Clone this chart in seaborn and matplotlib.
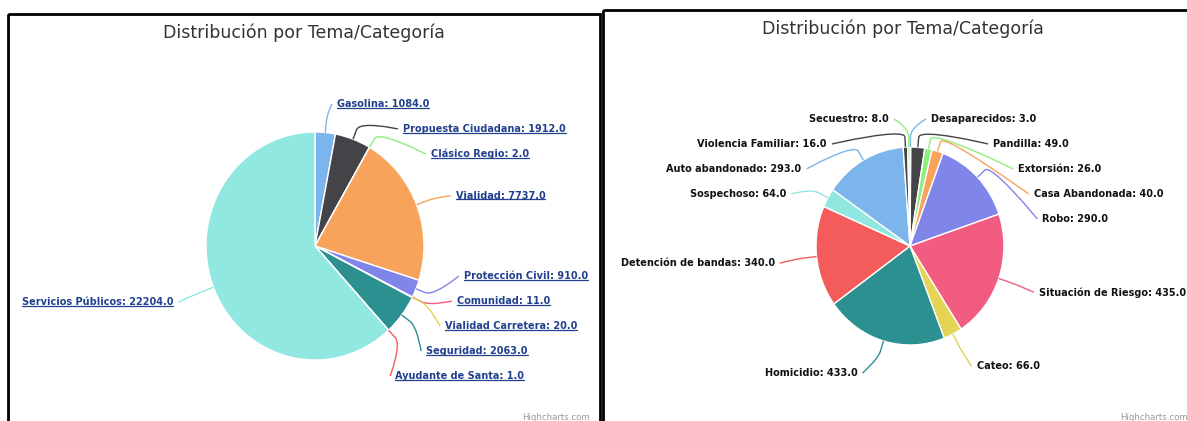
import numpy as np
import matplotlib
matplotlib.use("Agg")
import matplotlib.pyplot as plt
from matplotlib.path import Path
from matplotlib.patches import PathPatch, Rectangle
import seaborn as sns

# data
title = "Distribución por Tema/Categoría"

left_cats = ["Gasolina", "Propuesta Ciudadana", "Clásico Regio", "Vialidad",
             "Protección Civil", "Comunidad", "Vialidad Carretera", "Seguridad",
             "Ayudante de Santa", "Servicios Públicos"]
left_vals = [1084, 1912, 2, 7737, 910, 11, 20, 2063, 1, 22204]

right_cats = ["Desaparecidos", "Pandilla", "Extorsión", "Casa Abandonada", "Robo",
              "Situación de Riesgo", "Cateo", "Homicidio", "Detención de bandas",
              "Sospechoso", "Auto abandonado", "Violencia Familiar", "Secuestro"]
right_vals = [3, 49, 26, 40, 290, 435, 66, 433, 340, 64, 293, 16, 8]

hc_colors = ["#7cb5ec", "#434348", "#90ed7d", "#f7a35c", "#8085e9",
             "#f15c80", "#e4d354", "#2b908f", "#f45b5b", "#91e8e1"]

W, H = 1187, 421

sns.set_theme(style="white")
plt.rcParams["font.family"] = ["DejaVu Sans"]
palette = sns.color_palette(hc_colors)

fig = plt.figure(figsize=(W / 100, H / 100), dpi=100)
fig.patch.set_facecolor("white")

# overlay axes in pixel coordinates (y down) for labels, connectors, frames
over = fig.add_axes([0, 0, 1, 1], zorder=5)
over.set_xlim(0, W)
over.set_ylim(H, 0)
over.axis("off")
over.patch.set_alpha(0)


def spread(ys, gap, lo, hi):
    # push overlapping labels apart, keeping each group centred on its natural spot
    order = np.argsort(ys, kind="stable")
    clusters = [[i] for i in order]

    def start_of(cl):
        s = np.mean([ys[i] for i in cl]) - (len(cl) - 1) * gap / 2
        return min(max(s, lo), hi - (len(cl) - 1) * gap)

    merged = True
    while merged:
        merged = False
        for k in range(len(clusters) - 1):
            end_k = start_of(clusters[k]) + (len(clusters[k]) - 1) * gap
            if start_of(clusters[k + 1]) < end_k + gap - 1e-6:
                clusters[k] = clusters[k] + clusters.pop(k + 1)
                merged = True
                break
    out = np.zeros(len(ys))
    for cl in clusters:
        s = start_of(cl)
        for j, i in enumerate(cl):
            out[i] = s + j * gap
    return out


def draw_panel(cats, vals, box, cx, cy, rx, ry, title_xy, lab_color, underline,
               credit_xy, credit_ha):
    x0, y0, x1, y1 = box
    over.add_patch(Rectangle((x0, y0), x1 - x0, y1 - y0, fill=False,
                             ec="black", lw=2, clip_on=False))
    over.text(*title_xy, title, ha="center", va="center", fontsize=12.5,
              color="#333333")
    over.text(*credit_xy, "Highcharts.com", ha=credit_ha, va="center",
              fontsize=6.2, color="#999999")

    colors = [palette[i % len(palette)] for i in range(len(vals))]
    ax = fig.add_axes([(cx - rx) / W, (H - cy - ry) / H, 2 * rx / W, 2 * ry / H])
    wedges, _ = ax.pie(vals, colors=colors, startangle=90, counterclock=False,
                       wedgeprops=dict(edgecolor="white", linewidth=1))
    ax.set_aspect("auto")
    ax.set_xlim(-1, 1)
    ax.set_ylim(-1, 1)
    ax.axis("off")

    Rx, Ry = rx + 37, ry + 33
    mids = np.radians([(w.theta1 + w.theta2) / 2 for w in wedges])
    ux, uy = np.cos(mids), np.sin(mids)
    natural = cy - Ry * uy + 3
    ys = np.zeros(len(vals))
    for side in (True, False):
        idx = np.where((ux >= 0) == side)[0]
        if len(idx):
            ys[idx] = spread(natural[idx], 25, cy - Ry + 5, cy + Ry - 5)

    texts = []
    for i, (c, v) in enumerate(zip(cats, vals)):
        right = ux[i] >= 0
        sgn = 1 if right else -1
        a = np.arcsin(np.clip((ys[i] - 4 - cy) / Ry, -1, 1))
        lx = cx + sgn * Rx * np.cos(a)
        touch = (cx + rx * ux[i], cy - ry * uy[i])
        brk = (cx + (rx + 10) * ux[i], cy - (ry + 10) * uy[i])
        ctrl = (2 * brk[0] - touch[0], 2 * brk[1] - touch[1])
        path = Path([(lx, ys[i]), (lx, ys[i]), ctrl, brk, touch],
                    [Path.MOVETO, Path.CURVE4, Path.CURVE4, Path.CURVE4, Path.LINETO])
        over.add_patch(PathPatch(path, fc="none", ec=colors[i], lw=1))
        t = over.text(lx + sgn * 5, ys[i], f"{c}: {v:.1f}",
                      ha="left" if right else "right", va="center",
                      fontsize=7, fontweight="bold", color=lab_color)
        texts.append(t)
    return texts if underline else []


left_texts = draw_panel(left_cats, left_vals, (8, 14, 600, 440), 315, 246, 109, 114,
                        (304, 33), "#22408f", True, (590, 417), "right")
draw_panel(right_cats, right_vals, (603, 10, 1203, 440), 910, 246, 94, 99,
           (903, 29), "#111111", False, (1120, 417), "left")

# Highcharts renders the left panel's labels as underlined links
fig.canvas.draw()
rend = fig.canvas.get_renderer()
for t in left_texts:
    bb = t.get_window_extent(rend)
    yy = H - bb.y0 - 1.5
    over.plot([bb.x0, bb.x1], [yy, yy], color=t.get_color(), lw=0.9)

fig.savefig("out.png", dpi=100)
